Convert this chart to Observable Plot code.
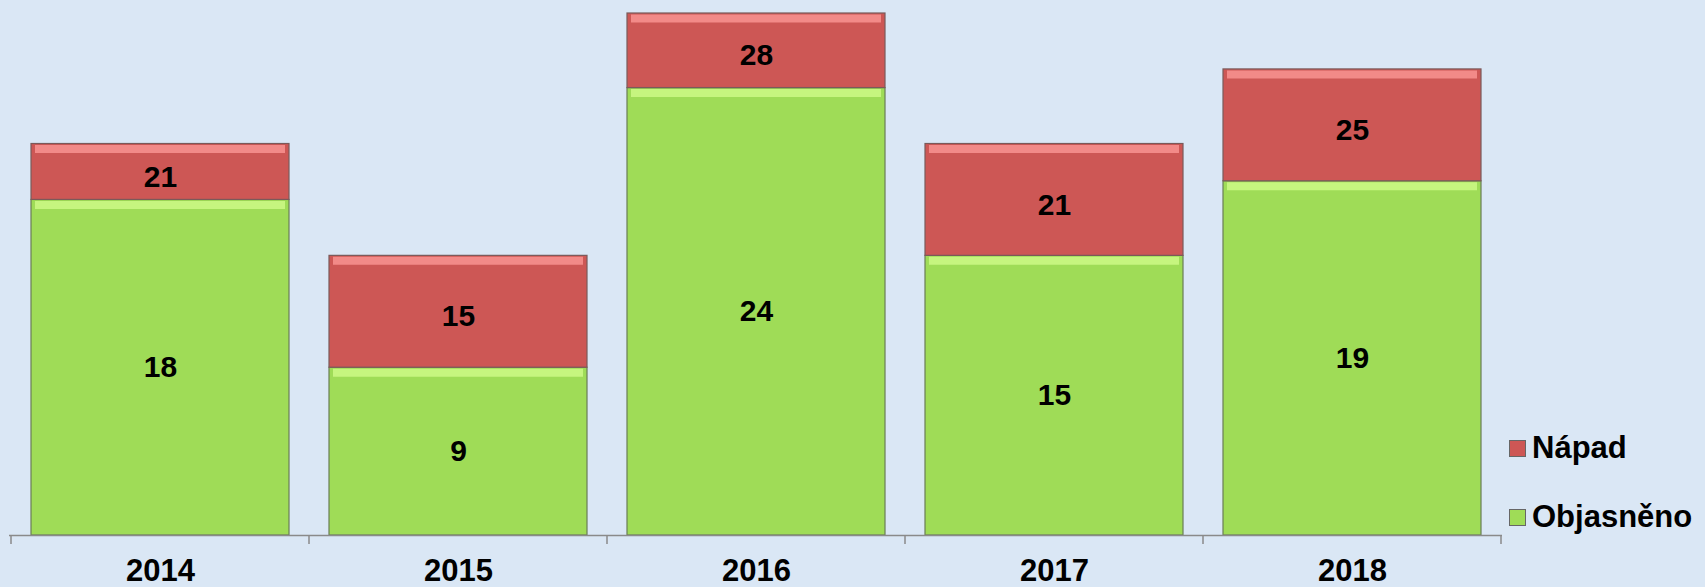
<!DOCTYPE html>
<html>
<head>
<meta charset="utf-8">
<script src="https://cdn.jsdelivr.net/npm/d3@7"></script>
<script src="https://cdn.jsdelivr.net/npm/@observablehq/plot@0.6"></script>
<style>
  html, body { margin: 0; padding: 0; background: #dae7f5; }
  #wrap { position: relative; width: 1705px; height: 587px; overflow: hidden;
          font-family: "Liberation Sans", Arial, sans-serif; }
  #legend { position: absolute; left: 1509px; top: 430px; font-weight: bold; font-size: 31px; color: #000; }
  #legend .item { display: flex; align-items: center; height: 36px; margin-bottom: 33px; }
  #legend .sw { width: 17px; height: 17px; margin-right: 6px; box-sizing: border-box; border: 1px solid #666; }
</style>
</head>
<body>
<div id="wrap"><div id="legend"></div></div>
<script>
const years = ["2014", "2015", "2016", "2017", "2018"];
const objasneno = [18, 9, 24, 15, 19];
const napad = [21, 15, 28, 21, 25];
const seriesNames = ["Nápad", "Objasněno"];
const seriesColors = ["#cd5755", "#9fdc57"];
const highlightColors = ["#f28a88", "#c6f57f"];

const data = years.map((y, i) => ({year: y, obj: objasneno[i], nap: napad[i]}));

const W = 1705, H = 587;
const inset = 20;

const plot = Plot.plot({
  width: W,
  height: H,
  marginLeft: 9,
  marginRight: 203,
  marginTop: 13,
  marginBottom: 52,
  style: {background: "transparent", fontFamily: "Liberation Sans, Arial, sans-serif", overflow: "visible"},
  x: {domain: years, padding: 0, label: null},
  y: {domain: [0, 28], axis: null},
  marks: [
    Plot.axisX({tickSize: 0, tickPadding: 23, fontSize: 31, fontWeight: "bold", fill: "#000", label: null}),
    // Objasněno segment
    Plot.barY(data, {x: "year", y1: 0, y2: "obj", fill: seriesColors[1], stroke: "#6a7d55", strokeWidth: 1.2, insetLeft: inset, insetRight: inset}),
    Plot.tickY(data, {x: "year", y: "obj", dy: 5, stroke: highlightColors[1], strokeWidth: 8, insetLeft: inset + 4, insetRight: inset + 4}),
    // Nápad segment (stacked on top, up to the Nápad total)
    Plot.barY(data, {x: "year", y1: "obj", y2: "nap", fill: seriesColors[0], stroke: "#7a5a5a", strokeWidth: 1.2, insetLeft: inset, insetRight: inset}),
    Plot.tickY(data, {x: "year", y: "nap", dy: 5, stroke: highlightColors[0], strokeWidth: 8, insetLeft: inset + 4, insetRight: inset + 4}),
    // axis baseline
    Plot.ruleY([0], {stroke: "#8a8a8a", strokeWidth: 1.5}),
    // labels
    Plot.text(data, {x: "year", y: d => d.obj / 2, text: d => String(d.obj), fontSize: 30, fontWeight: "bold", fill: "#000"}),
    Plot.text(data, {x: "year", y: d => (d.obj + d.nap) / 2, text: d => String(d.nap), fontSize: 30, fontWeight: "bold", fill: "#000", dy: 5})
  ]
});

// category-boundary tick marks (Excel style "between categories")
const sx = plot.scale("x");
const sy = plot.scale("y");
const y0 = sy.apply(0);
const bounds = years.map(y => sx.apply(y)).concat([sx.apply(years[years.length - 1]) + sx.bandwidth]);
const svg = d3.select(plot);
svg.append("g").selectAll("line").data(bounds).join("line")
  .attr("x1", d => d).attr("x2", d => d)
  .attr("y1", y0).attr("y2", y0 + 9)
  .attr("stroke", "#8a8a8a").attr("stroke-width", 1.5);

document.getElementById("wrap").prepend(plot);

// legend
const leg = document.getElementById("legend");
seriesNames.forEach((name, i) => {
  const item = document.createElement("div");
  item.className = "item";
  const sw = document.createElement("span");
  sw.className = "sw";
  sw.style.background = seriesColors[i];
  const t = document.createElement("span");
  t.textContent = name;
  item.appendChild(sw);
  item.appendChild(t);
  leg.appendChild(item);
});
</script>
</body>
</html>
